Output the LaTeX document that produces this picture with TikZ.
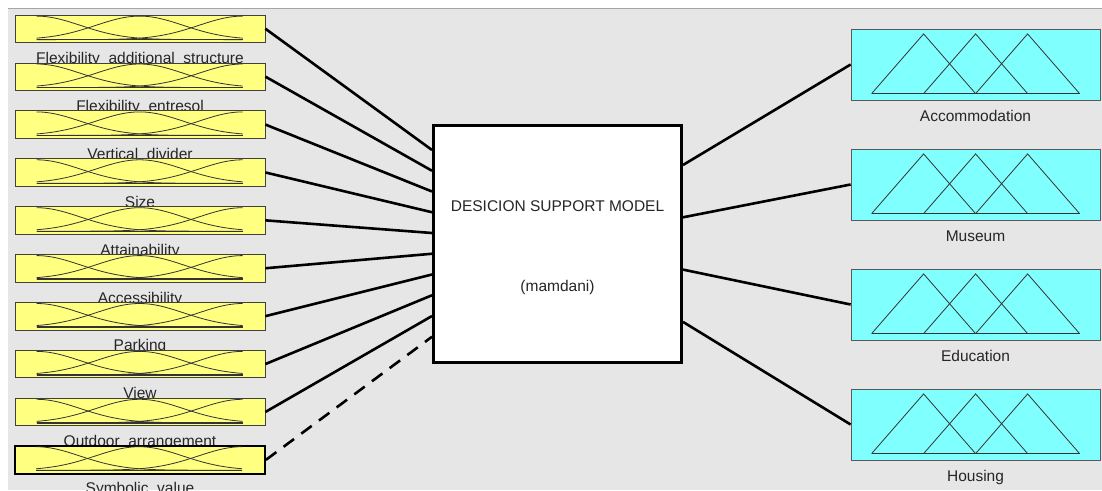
\documentclass[tikz,border=0pt]{standalone}
\usepackage{fontspec}
\setmainfont{Liberation Sans}
\usepackage{xcolor}
\usepackage{tikz}
\usetikzlibrary{calc}
\definecolor{panelgray}{RGB}{230,230,230}
\definecolor{mfyellow}{RGB}{255,255,128}
\definecolor{mfcyan}{RGB}{128,255,255}
\tikzset{
  inbox/.style={draw=black!75,fill=mfyellow,line width=0.8pt,minimum width=250pt,minimum height=27.5pt,inner sep=0pt},
  insel/.style={inbox,draw=black,line width=1.8pt},
  outbox/.style={draw=black!65,fill=mfcyan,line width=0.8pt,minimum width=249pt,minimum height=71pt,inner sep=0pt},
  fis/.style={draw=black,fill=white,line width=3pt,minimum width=248pt,minimum height=237pt,inner sep=0pt},
  lbl/.style={anchor=base,text=black!85,font=\fontsize{15.5}{18}\selectfont,inner sep=0pt},
  wire/.style={line width=2.6pt,black},
  wiresel/.style={wire,dash pattern=on 13pt off 9pt},
  mf/.style={black!80,line width=0.8pt}
}
% gaussian input sets, drawn inside a named input box
\newcommand{\inmf}[1]{%
  \begin{scope}[shift={(#1.north west)}]
    \draw[mf] plot[domain=22:228,samples=60,smooth] (\x,{25-23.5*exp(-0.5*((\x-22)/43.7)^2)});
    \draw[mf] plot[domain=22:228,samples=60,smooth] (\x,{25-23.5*exp(-0.5*((\x-125)/43.7)^2)});
    \draw[mf] plot[domain=22:228,samples=60,smooth] (\x,{25-23.5*exp(-0.5*((\x-228)/43.7)^2)});
    \draw[mf,line width=1.4pt] (22,25) -- (228,25);
  \end{scope}}
% triangular output sets, drawn inside a named output box
\newcommand{\outmf}[1]{%
  \begin{scope}[shift={(#1.north west)}]
    \draw[mf] (21,65) -- (73,5.3) -- (125,65);
    \draw[mf] (73,65) -- (125,5.3) -- (177,65);
    \draw[mf] (125,65) -- (177,5.3) -- (229,65);
    \draw[mf] (21,65) -- (229,65);
  \end{scope}}

\begin{document}
\begin{tikzpicture}[x=1pt,y=-1pt]
\useasboundingbox (0,0) rectangle (1102,490);
\clip (0,0) rectangle (1102,490);
\fill[white] (0,0) rectangle (1102,490);
\fill[panelgray] (8,8) rectangle (1102,490);
\draw[black!35,line width=1pt] (8,8) -- (1102,8);

% input labels (partly hidden by the next box)
\node[lbl] (flexadd-lbl) at (140,63.5) {Flexibility\_additional\_structure};
\node[lbl] (flexent-lbl) at (140,111.4) {Flexibility\_entresol};
\node[lbl] (vdiv-lbl) at (140,159.3) {Vertical\_divider};
\node[lbl] (size-lbl) at (140,207.2) {Size};
\node[lbl] (attain-lbl) at (140,255.1) {Attainability};
\node[lbl] (access-lbl) at (140,303.0) {Accessibility};
\node[lbl] (park-lbl) at (140,350.9) {Parking};
\node[lbl] (view-lbl) at (140,398.8) {View};
\node[lbl] (outdoor-lbl) at (140,446.7) {Outdoor\_arrangement};
\node[lbl] (symb-lbl) at (140,493.5) {Symbolic\_value};

% input boxes
\node[inbox] (flexadd) at (140,28.75) {};
\node[inbox] (flexent) at (140,76.65) {};
\node[inbox] (vdiv) at (140,124.55) {};
\node[inbox] (size) at (140,172.45) {};
\node[inbox] (attain) at (140,220.35) {};
\node[inbox] (access) at (140,268.25) {};
\node[inbox] (park) at (140,316.15) {};
\node[inbox] (view) at (140,364.05) {};
\node[inbox] (outdoor) at (140,411.95) {};
\node[insel] (symb) at (140,459.85) {};
\foreach \n in {flexadd,flexent,vdiv,size,attain,access,park,view,outdoor,symb} {\inmf{\n}}

% rule block
\node[fis] (dsm) at (557.5,244) {};
\node[lbl] (dsm-title) at (557.5,211.5) {DESICION SUPPORT MODEL};
\node[lbl] (dsm-type) at (557.5,291.5) {(mamdani)};
\foreach \i in {1,...,10} \coordinate (dsm-in\i) at ($(dsm.north west)+(0,{26+20.75*(\i-1)})$);
\foreach \i in {1,...,4} \coordinate (dsm-out\i) at ($(dsm.north east)+(0,{41+52.3*(\i-1)})$);

% output boxes
\node[outbox] (accom) at (975.5,64.5) {};
\node[outbox] (museum) at (975.5,184.5) {};
\node[outbox] (edu) at (975.5,304.5) {};
\node[outbox] (housing) at (975.5,424.5) {};
\foreach \n in {accom,museum,edu,housing} {\outmf{\n}}
\node[lbl] (accom-lbl) at ($(accom.south)+(0,21)$) {Accommodation};
\node[lbl] (museum-lbl) at ($(museum.south)+(0,21)$) {Museum};
\node[lbl] (edu-lbl) at ($(edu.south)+(0,21)$) {Education};
\node[lbl] (housing-lbl) at ($(housing.south)+(0,21)$) {Housing};

% wires
\draw[wire] (flexadd.east) -- (dsm-in1);
\draw[wire] (flexent.east) -- (dsm-in2);
\draw[wire] (vdiv.east) -- (dsm-in3);
\draw[wire] (size.east) -- (dsm-in4);
\draw[wire] (attain.east) -- (dsm-in5);
\draw[wire] (access.east) -- (dsm-in6);
\draw[wire] (park.east) -- (dsm-in7);
\draw[wire] (view.east) -- (dsm-in8);
\draw[wire] (outdoor.east) -- (dsm-in9);
\draw[wiresel] (symb.east) -- (dsm-in10);
\draw[wire] (dsm-out1) -- (accom.west);
\draw[wire] (dsm-out2) -- (museum.west);
\draw[wire] (dsm-out3) -- (edu.west);
\draw[wire] (dsm-out4) -- (housing.west);
\end{tikzpicture}
\end{document}
